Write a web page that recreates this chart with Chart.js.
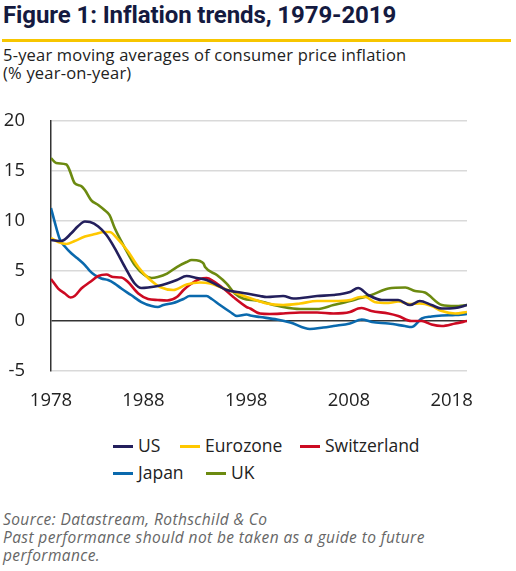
<!DOCTYPE html>
<html>
<head>
<meta charset="utf-8">
<script src="https://cdn.jsdelivr.net/npm/chart.js@4.4.1/dist/chart.umd.min.js"></script>
<style>
  html, body { margin: 0; padding: 0; background: #fff; }
  body { width: 516px; height: 571px; position: relative; overflow: hidden; font-family: "Open Sans", "Liberation Sans", sans-serif; }
  #title { position: absolute; left: 3px; top: 1px; font-family: Roboto, sans-serif; font-weight: 700; font-size: 24px; color: #141a40; white-space: nowrap; letter-spacing: -0.1px; }
  #rule { position: absolute; left: 2px; top: 39px; width: 509px; height: 3px; background: #f7c600; }
  #subtitle { position: absolute; left: 3px; top: 46px; font-size: 16.5px; line-height: 18px; color: #222; white-space: nowrap; letter-spacing: 0.2px; }
  #chartBox { position: absolute; left: 0; top: 84px; width: 500px; height: 338px; }
  #legend { position: absolute; left: 113px; top: 434px; font-size: 17.5px; color: #222; }
  .row { height: 27px; position: relative; white-space: nowrap; }
  .item { position: absolute; top: 0; line-height: 22px; }
  .sw { display: inline-block; width: 20px; height: 3px; vertical-align: middle; margin-right: 5px; position: relative; top: -1px; }
  #source { position: absolute; left: 3px; top: 510px; font-size: 15.5px; line-height: 18px; color: #666; font-style: italic; letter-spacing: 0.4px; white-space: nowrap; }
</style>
</head>
<body>
<div id="title">Figure 1: Inflation trends, 1979-2019</div>
<div id="rule"></div>
<div id="subtitle">5-year moving averages of consumer price inflation<br>(% year-on-year)</div>
<div id="chartBox"><canvas id="c"></canvas></div>
<div id="legend"></div>
<div id="source">Source: Datastream, Rothschild &amp; Co<br>Past performance should not be taken as a guide to future<br>performance.</div>
<script>
// ---- data (year, % y/y) ----
const usYears = [1979.0,1980.0,1981.0,1981.6,1982.3,1982.8,1983.6,1984.4,1985.2,1986.2,1987.15,1987.8,1988.45,1989.4,1990.3,1991.25,1992.2,1993.2,1994.15,1995.15,1996.1,1997.1,1998.05,1999.35,2000.0,2001.6,2002.6,2004.9,2006.5,2008.1,2008.9,2009.9,2011.2,2012.8,2013.95,2014.9,2016.05,2017.05,2018.35,2019.5];
const usValues = [8.1,8.0,8.8,9.45,9.95,9.9,9.45,8.6,7.3,5.4,3.75,3.3,3.35,3.5,3.75,4.1,4.5,4.3,4.1,3.6,3.1,2.9,2.75,2.5,2.4,2.5,2.25,2.5,2.6,2.9,3.3,2.6,2.1,2.1,1.6,2.0,1.6,1.25,1.3,1.6];

const ezYears = [1979.0,1979.7,1980.5,1981.3,1982.3,1983.3,1984.2,1984.7,1985.5,1986.5,1987.5,1988.45,1989.1,1989.6,1990.9,1992.2,1993.5,1994.5,1995.45,1996.75,1998.05,1999.35,2000.0,2001.6,2003.25,2004.9,2006.5,2008.1,2009.1,2009.6,2010.5,2011.85,2012.8,2013.95,2014.9,2016.05,2017.05,2018.35,2019.5];
const ezValues = [8.3,7.9,7.7,8.0,8.45,8.7,8.9,8.9,8.2,6.95,5.4,4.3,3.75,3.4,3.1,3.65,3.85,3.75,3.4,2.9,2.4,1.95,1.75,1.6,1.75,2.0,2.0,2.1,2.4,2.4,1.9,1.8,1.95,1.7,1.75,1.5,1.0,0.75,0.9];

const chYears = [1979.0,1979.7,1980.35,1980.9,1981.3,1981.95,1982.8,1983.6,1984.4,1985.05,1985.85,1986.5,1987.5,1988.45,1989.4,1990.3,1991.25,1991.9,1992.55,1993.5,1994.15,1994.8,1995.8,1996.75,1998.05,1998.4,1999.05,1999.35,2000.3,2001.6,2003.25,2004.9,2006.5,2008.1,2008.9,2009.25,2010.2,2011.85,2012.8,2014.1,2015.1,2016.05,2017.05,2018.35,2019.5];
const chValues = [4.2,3.25,2.75,2.35,2.5,3.25,3.9,4.5,4.65,4.4,4.35,3.9,2.75,2.2,2.1,2.05,2.4,3.1,3.65,4.2,4.3,4.0,3.25,2.4,1.4,1.25,0.85,0.75,0.7,0.75,0.85,0.85,0.75,0.9,1.25,1.3,1.0,0.75,0.5,0.0,0.0,-0.35,-0.5,-0.25,0.0];

const jpYears = [1979.0,1979.35,1979.85,1980.35,1981.0,1981.6,1982.3,1982.8,1983.25,1983.9,1984.55,1985.2,1985.85,1986.8,1987.8,1988.8,1989.4,1989.95,1990.9,1991.9,1992.5,1993.5,1994.15,1994.65,1995.45,1996.45,1997.1,1998.05,1998.4,1999.35,2001.0,2002.3,2004.2,2005.5,2006.5,2008.1,2009.25,2010.25,2011.85,2013.45,2014.1,2015.1,2016.05,2017.05,2018.35,2019.5];
const jpValues = [11.3,9.95,8.2,7.45,6.75,6.25,5.6,5.0,4.6,4.25,4.1,3.75,3.25,2.6,1.9,1.5,1.4,1.6,1.8,2.2,2.5,2.5,2.5,2.2,1.6,0.9,0.5,0.65,0.55,0.4,0.15,-0.15,-0.8,-0.65,-0.5,-0.25,0.15,-0.1,-0.25,-0.5,-0.6,0.25,0.45,0.55,0.6,0.7];

const ukYears = [1979.0,1979.5,1980.5,1980.8,1981.3,1981.95,1982.3,1982.9,1983.6,1984.2,1984.7,1985.2,1986.2,1987.15,1988.1,1988.8,1989.4,1990.3,1991.25,1992.2,1992.7,1993.5,1993.85,1994.0,1995.15,1996.1,1996.9,1997.7,1999.0,2001.6,2003.25,2004.9,2006.5,2008.1,2009.1,2010.2,2011.85,2013.5,2014.45,2015.4,2017.05,2018.35,2019.5];
const ukValues = [16.3,15.8,15.65,15.1,13.8,13.5,13.1,12.1,11.6,11.1,10.6,9.3,7.3,5.6,4.6,4.3,4.4,4.75,5.4,5.9,6.1,6.0,5.75,5.4,4.6,3.75,2.75,2.25,2.05,1.4,1.2,1.2,1.6,2.0,2.3,2.6,3.25,3.35,3.0,2.85,1.6,1.5,1.6];

const seriesNames = ['US','Eurozone','Switzerland','Japan','UK'];
const seriesColors = ['#231f5c','#ffc800','#cc0a22','#0a69ad','#6c8a10'];

const xTickValues = [1979, 1988, 1998, 2008, 2018];
const xTickLabels = ['1978', '1988', '1998', '2008', '2018'];
const yTickValues = [-5, 0, 5, 10, 15, 20];

// ---- build ----
function pts(xs, ys) { return xs.map((x, i) => ({ x: x, y: ys[i] })); }
const allYears = [usYears, ezYears, chYears, jpYears, ukYears];
const allValues = [usValues, ezValues, chValues, jpValues, ukValues];

const datasets = seriesNames.map((n, i) => ({
  label: n,
  data: pts(allYears[i], allValues[i]),
  borderColor: seriesColors[i],
  backgroundColor: seriesColors[i],
  borderWidth: 2.6,
  pointRadius: 0,
  cubicInterpolationMode: 'monotone',
  fill: false
}));

const tickFont = { family: '"Open Sans", "Liberation Sans", sans-serif', size: 18.5 };

new Chart(document.getElementById('c'), {
  type: 'line',
  data: { datasets: datasets },
  options: {
    responsive: true,
    maintainAspectRatio: false,
    animation: false,
    layout: { padding: { top: 5, right: 33, left: 0, bottom: 0 } },
    plugins: { legend: { display: false }, tooltip: { enabled: false } },
    scales: {
      x: {
        type: 'linear',
        min: 1979,
        max: 2019.5,
        afterBuildTicks: (s) => { s.ticks = xTickValues.map(v => ({ value: v })); },
        afterFit: (s) => { s.height = 51; },
        ticks: {
          autoSkip: false,
          maxRotation: 0,
          padding: 19,
          color: '#222',
          font: tickFont,
          callback: (v) => { const i = xTickValues.indexOf(v); return i >= 0 ? xTickLabels[i] : ''; }
        },
        grid: { display: false, drawTicks: false },
        border: { display: false }
      },
      y: {
        min: -5,
        max: 20,
        afterBuildTicks: (s) => { s.ticks = yTickValues.map(v => ({ value: v })); },
        afterFit: (s) => { s.width = 51; },
        ticks: {
          padding: 26,
          color: '#222',
          font: tickFont,
          callback: (v) => String(v)
        },
        grid: {
          drawTicks: false,
          lineWidth: 1.5,
          color: (ctx) => ctx.tick && ctx.tick.value === 0 ? '#333333' : '#d9d9d9'
        },
        border: { display: true, color: '#333333', width: 1.5 }
      }
    }
  }
});

// ---- HTML legend built from series ----
const legendLayout = [[0, 0, 0], [1, 0, 67], [2, 0, 187], [3, 1, 0], [4, 1, 93]];
const lg = document.getElementById('legend');
const rows = [document.createElement('div'), document.createElement('div')];
rows.forEach(r => { r.className = 'row'; lg.appendChild(r); });
legendLayout.forEach(([i, r, left]) => {
  const it = document.createElement('span');
  it.className = 'item';
  it.style.left = left + 'px';
  it.innerHTML = '<span class="sw" style="background:' + seriesColors[i] + '"></span>' + seriesNames[i];
  rows[r].appendChild(it);
});
</script>
</body>
</html>
